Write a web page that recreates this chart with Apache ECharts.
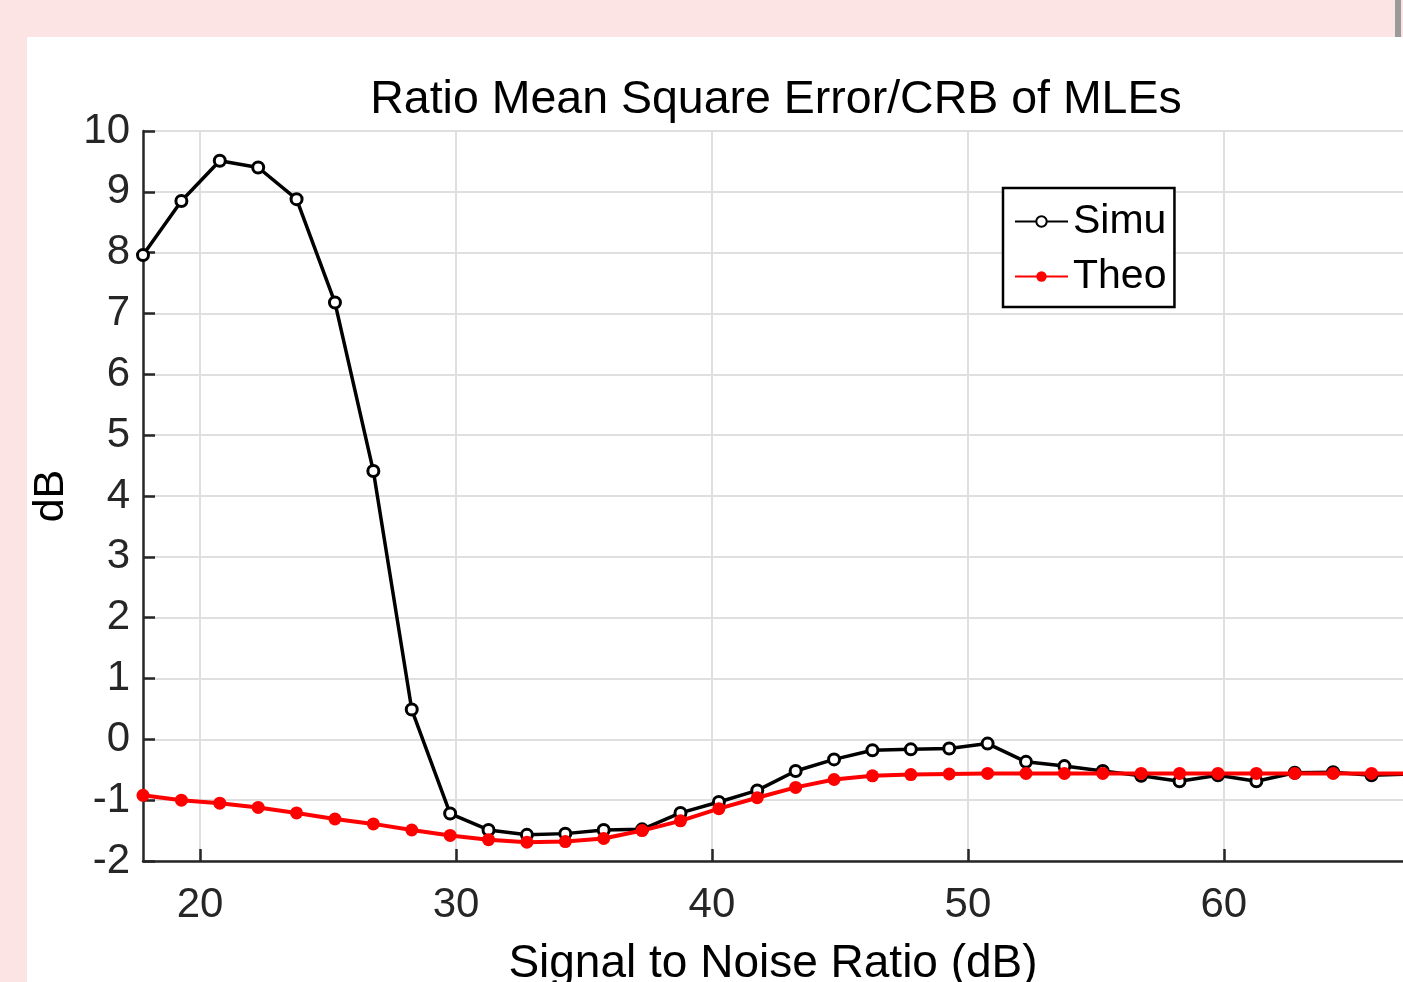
<!DOCTYPE html>
<html>
<head>
<meta charset="utf-8">
<script src="https://cdn.jsdelivr.net/npm/echarts@6/dist/echarts.min.js"></script>
<style>
  html, body { margin: 0; padding: 0; background: #fde4e4; overflow: hidden; }
  #chart { width: 1403px; height: 982px; }
</style>
</head>
<body>
<div id="chart"></div>
<script>
// snr points (dB)
var snr = [17.77, 19.27, 20.77, 22.27, 23.77, 25.27, 26.77, 28.27, 29.77, 31.27,
  32.77, 34.27, 35.77, 37.27, 38.77, 40.27, 41.77, 43.27, 44.77, 46.27,
  47.77, 49.27, 50.77, 52.27, 53.77, 55.27, 56.77, 58.27, 59.77, 61.27,
  62.77, 64.27, 65.77, 67.27]
var simu = [7.96, 8.85, 9.51, 9.40, 8.88, 7.18, 4.41, 0.49, -1.22, -1.49,
  -1.57, -1.55, -1.49, -1.48, -1.21, -1.03, -0.84, -0.52, -0.33, -0.18,
  -0.165, -0.15, -0.07, -0.37, -0.44, -0.52, -0.60, -0.69, -0.59, -0.69,
  -0.55, -0.54, -0.59, -0.57]
var theo = [-0.92, -1.00, -1.05, -1.12, -1.21, -1.31, -1.39, -1.49, -1.58, -1.65,
  -1.69, -1.68, -1.63, -1.50, -1.34, -1.14, -0.96, -0.79, -0.66, -0.60,
  -0.58, -0.57, -0.56, -0.56, -0.56, -0.56, -0.56, -0.56, -0.56, -0.56,
  -0.56, -0.56, -0.56, -0.56]
var xTicks = [20, 30, 40, 50, 60]

function pairs(ys) {
  return ys.map(function (y, i) { return [snr[i], y] })
}

var axisColor = '#262626'
var font = 'Liberation Sans, Arial, sans-serif'

var chart = echarts.init(document.getElementById('chart'), null, { renderer: 'canvas' })
chart.setOption({
  backgroundColor: '#fde4e4',
  animation: false,
  graphic: [
    { type: 'rect', z: -10, shape: { x: 27, y: 37, width: 1376, height: 945 }, style: { fill: '#ffffff' } },
    { type: 'rect', z: -10, shape: { x: 1395, y: 0, width: 6, height: 37 }, style: { fill: '#9a9a9a' } }
  ],
  title: {
    text: 'Ratio Mean Square Error/CRB of MLEs',
    left: 776,
    top: 77,
    padding: 0,
    textAlign: 'center',
    textStyle: { fontFamily: font, fontSize: 46.5, fontWeight: 'normal', color: '#000' }
  },
  grid: { left: 143, top: 131, right: 0, bottom: 121, containLabel: false, outerBoundsMode: 'none' },
  legend: {
    orient: 'vertical',
    left: 1003,
    top: 188,
    itemWidth: 53,
    itemHeight: 13,
    itemGap: 14,
    padding: [13, 8, 10, 11],
    borderColor: '#000',
    borderWidth: 2.5,
    backgroundColor: '#fff',
    textStyle: { fontFamily: font, fontSize: 41, color: '#000' },
    data: ['Simu', 'Theo']
  },
  xAxis: {
    type: 'value',
    min: 17.77,
    max: 67.0,
    name: 'Signal to Noise Ratio (dB)',
    nameLocation: 'middle',
    nameGap: 80,
    nameTextStyle: { fontFamily: font, fontSize: 46, color: '#000' },
    axisLine: { show: true, onZero: false, lineStyle: { color: axisColor, width: 2.5 } },
    axisTick: { show: true, inside: true, length: 12, customValues: xTicks, lineStyle: { color: axisColor, width: 2.5 } },
    axisLabel: { customValues: xTicks, fontFamily: font, fontSize: 42, color: axisColor, margin: 23 },
    splitLine: { show: true, lineStyle: { color: '#dfdfdf', width: 2 } }
  },
  yAxis: {
    type: 'value',
    min: -2,
    max: 10,
    interval: 1,
    name: 'dB',
    nameLocation: 'middle',
    nameRotate: 90,
    nameGap: 70,
    nameTextStyle: { fontFamily: font, fontSize: 43, color: '#000' },
    axisLine: { show: true, onZero: false, lineStyle: { color: axisColor, width: 2.5 } },
    axisTick: { show: true, inside: true, length: 12, lineStyle: { color: axisColor, width: 2.5 } },
    axisLabel: { fontFamily: font, fontSize: 42, color: axisColor, margin: 13 },
    splitLine: { show: true, lineStyle: { color: '#dfdfdf', width: 2 } }
  },
  series: [
    {
      name: 'Simu',
      type: 'line',
      data: pairs(simu),
      symbol: 'circle',
      symbolSize: 11,
      clip: true,
      lineStyle: { color: '#000', width: 3.5 },
      itemStyle: { color: '#fff', borderColor: '#000', borderWidth: 3 },
      z: 3
    },
    {
      name: 'Theo',
      type: 'line',
      data: pairs(theo),
      symbol: 'circle',
      symbolSize: 13,
      clip: true,
      lineStyle: { color: '#ff0000', width: 4 },
      itemStyle: { color: '#ff0000' },
      z: 4
    }
  ]
})
</script>
</body>
</html>
